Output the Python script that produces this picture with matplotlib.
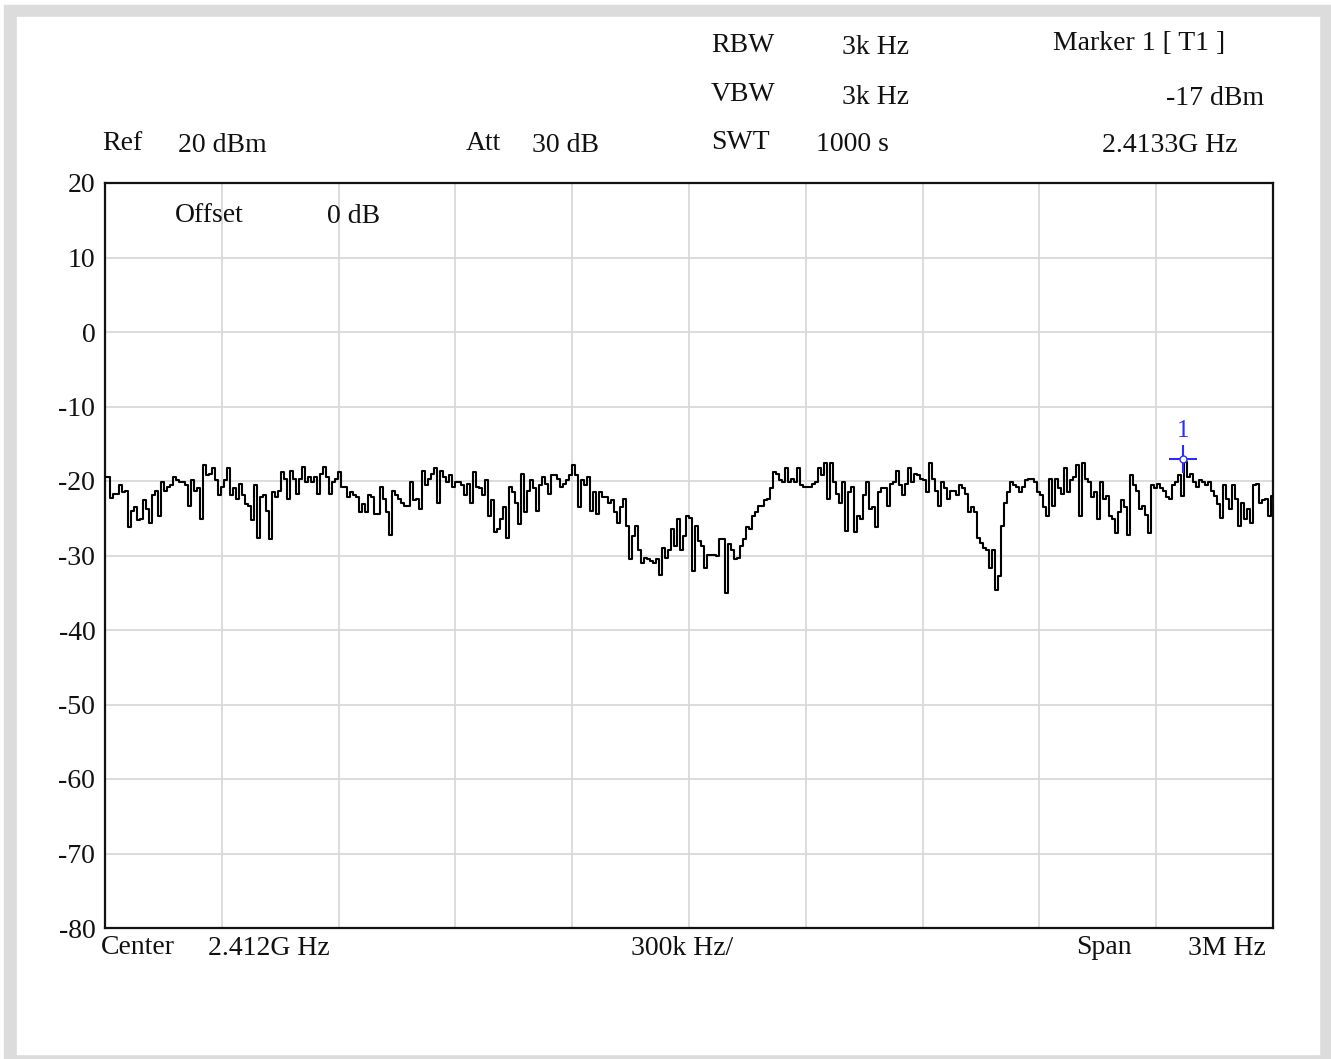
import numpy as np
import matplotlib
matplotlib.use("Agg")
import matplotlib.pyplot as plt
from matplotlib.patches import Rectangle

# ---------------- data ----------------
f_start = 2410.5   # MHz (center 2412 MHz, span 3 MHz)
f_stop = 2413.5
y_ticks = [20, 10, 0, -10, -20, -30, -40, -50, -60, -70, -80]

level_dbm = [
    # 2410.50 ... ~2411.00 MHz
    -19.5, -19.5, -22.3, -21.7, -21.8, -20.6, -21.5, -21.3, -26.2, -24.0,
    -23.5, -25.3, -25.1, -22.6, -23.8, -25.6, -21.9, -21.3, -24.7, -20.1,
    -21.3, -20.8, -20.6, -19.5, -19.9, -20.1, -20.1, -20.6, -23.3, -19.9,
    -21.3, -21.0, -25.1, -17.9, -19.2, -19.0, -18.3, -19.9, -21.9, -20.8,
    -19.9, -18.3, -21.9, -21.0, -22.4, -20.4, -21.9, -23.1, -23.3, -25.3,
    -20.6, -27.6, -22.2, -21.9, -24.0, -27.8, -21.5, -22.2, -21.3, -18.8,
    -19.7, -22.4, -18.6, -19.7, -21.7, -19.7,
    # ~2411.0 ... ~2411.5 MHz
    -18.1, -20.1, -19.5, -20.1, -19.5, -21.7, -19.0, -18.1, -19.5, -21.7,
    -20.1, -19.7, -18.8, -20.8, -20.8, -22.2, -21.5, -21.9, -22.2, -24.2,
    -23.1, -24.2, -21.9, -22.2, -24.4, -24.4, -20.8, -22.4, -24.2, -27.3,
    -21.3, -21.9, -22.4, -22.9, -23.3, -23.3, -20.1, -22.6, -22.4, -23.8,
    -18.6, -20.6, -19.7, -19.0, -18.3, -22.9, -18.6, -19.5, -20.1, -19.2,
    -20.8, -20.1, -20.1, -20.6, -21.9, -20.4, -22.9, -18.8, -20.8, -21.0,
    # ~2411.5 ... ~2412.0 MHz
    -21.9, -19.9, -24.7, -22.6, -26.9, -26.5, -25.1, -23.5, -27.6, -20.8,
    -21.5, -22.9, -25.8, -19.0, -24.2, -21.3, -19.9, -21.0, -24.0, -20.6,
    -19.5, -20.4, -21.7, -19.2, -19.2, -19.7, -20.8, -20.4, -19.9, -19.2,
    -17.9, -19.2, -23.5, -19.9, -20.6, -19.5, -24.0, -21.5, -24.4, -21.5,
    -22.2, -22.2, -22.9, -22.6, -24.2, -25.6, -23.5, -22.4, -26.0, -30.5,
    -27.4, -26.0, -29.2, -31.0, -30.3, -30.5, -30.8, -31.0, -30.5, -32.6,
    -29.0, -30.3, -29.2,
    # ~2412.0 ... ~2412.5 MHz
    -26.5, -28.7, -25.1, -29.2, -27.4, -24.7, -24.9, -32.1, -26.0, -28.1,
    -28.7, -31.7, -29.9, -29.9, -29.9, -30.1, -27.8, -27.8, -35.1, -28.5,
    -29.2, -30.5, -30.3, -28.7, -27.8, -26.2, -26.5, -24.7, -24.2, -23.3,
    -23.3, -22.6, -22.4, -21.0, -18.8, -19.0, -19.9, -20.1, -18.3, -20.1,
    -19.7, -20.1, -18.3, -20.6, -20.8, -20.8, -20.8, -20.4, -20.1, -18.3,
    -19.2, -17.6, -22.4, -17.6, -20.1, -21.7, -22.9, -20.1, -26.7, -21.5,
    -20.8, -26.9, -24.7,
    # ~2412.5 ... ~2413.0 MHz
    -25.1, -21.9, -20.1, -23.8, -23.5, -26.2, -21.5, -21.0, -21.0, -23.3,
    -20.4, -20.1, -18.6, -20.6, -21.9, -20.4, -18.3, -20.1, -19.0, -19.2,
    -19.7, -19.9, -21.5, -17.6, -19.7, -21.3, -23.3, -20.1, -21.0, -22.4,
    -21.3, -21.3, -21.9, -20.6, -21.0, -21.7, -24.2, -23.5, -24.2, -27.6,
    -28.3, -29.0, -29.2, -31.7, -29.2, -34.6, -32.8, -26.0, -22.9, -21.5,
    -20.1, -20.6, -20.8, -21.5, -20.8, -19.9, -19.7, -19.7, -20.1, -21.5,
    -21.9, -23.5, -24.7, -19.7,
    # ~2413.0 ... 2413.5 MHz
    -23.3, -19.7, -21.0, -21.7, -18.3, -21.5, -19.9, -19.5, -17.9, -24.7,
    -17.6, -19.7, -20.1, -22.2, -21.5, -25.1, -20.1, -22.4, -22.0, -24.7,
    -25.1, -27.0, -24.2, -22.6, -23.5, -27.2, -19.2, -20.6, -21.3, -23.8,
    -23.3, -24.5, -27.0, -20.6, -21.0, -20.4, -21.0, -21.3, -22.2, -22.4,
    -20.6, -20.1, -19.2, -22.0, -17.4, -19.5, -19.0, -20.1, -20.8, -19.9,
    -20.1, -20.6, -20.1, -21.3, -22.0, -23.1, -24.9, -20.6, -22.4, -23.8,
    -20.6, -22.4, -26.0, -22.9, -25.1, -23.8, -25.6, -20.6, -20.4, -22.9,
    -22.6, -22.4, -24.7, -22.0,
]

marker_freq = 2413.27
marker_level = -17
marker_label = "1"

header_left = [("Ref", "20 dBm"), ("Att", "30 dB")]
header_mid = [("RBW", "3k Hz"), ("VBW", "3k Hz"), ("SWT", "1000 s")]
marker_lines = ["Marker 1 [ T1 ]", "-17 dBm", "2.4133G Hz"]
offset_text = ("Offset", "0 dB")
footer = [("Center", "2.412G Hz"), ("300k Hz/",), ("Span", "3M Hz")]

# ---------------- figure ----------------
W, H = 1331, 1059
plt.rcParams["font.family"] = ["Liberation Serif", "DejaVu Serif"]
FS = 20

fig = plt.figure(figsize=(W / 100, H / 100), dpi=100)
fig.patch.set_facecolor("white")
fig.patches.append(Rectangle((4 / W, 0), (W - 4) / W, (H - 5) / H,
                             transform=fig.transFigure, color="#dcdcdc", zorder=-5))
fig.patches.append(Rectangle((17 / W, 5 / H), 1302 / W, 1037 / H,
                             transform=fig.transFigure, color="white", zorder=-4))


def px(x, y):
    return x / W, 1 - y / H


def ftext(x, y, s, ha="left"):
    fx, fy = px(x, y)
    fig.text(fx, fy, s, ha=ha, va="baseline", fontsize=FS, color="#111111", zorder=5)


ax = fig.add_axes([105 / W, 1 - 928 / H, 1168 / W, 745 / H], zorder=2)
ax.set_facecolor("white")
freq = np.linspace(f_start, f_stop, len(level_dbm))
ax.plot(freq, level_dbm, color="black", lw=1.5, drawstyle="steps-mid", zorder=3)

ax.set_xlim(f_start, f_stop)
ax.set_ylim(-80, 20)
ax.set_xticks(np.linspace(f_start, f_stop, 11))
ax.set_xticklabels([])
ax.set_yticks(y_ticks)
ax.set_yticklabels([str(v) for v in y_ticks])
ax.grid(True, color="#d6d6d6", lw=1.2)
ax.set_axisbelow(True)
ax.tick_params(length=0, labelsize=FS, pad=7, colors="#111111")
for sp in ax.spines.values():
    sp.set_color("#111111")
    sp.set_linewidth(1.6)

# marker
mcol = "#2b2bff"
ax.plot(marker_freq, marker_level, marker="+", ms=20, mew=1.5, color=mcol, zorder=5)
ax.plot(marker_freq, marker_level, marker="o", ms=5, mfc="white", mec=mcol, mew=1.0, zorder=6)
ax.annotate(marker_label, (marker_freq, marker_level), xytext=(0, 20),
            textcoords="offset points", ha="center", va="center",
            fontsize=18, color=mcol)

# header texts
ftext(102, 150, header_left[0][0]); ftext(178, 152, header_left[0][1])
ftext(466, 150, header_left[1][0]); ftext(532, 152, header_left[1][1])
ftext(711, 52, header_mid[0][0]); ftext(842, 54, header_mid[0][1])
ftext(711, 101, header_mid[1][0]); ftext(842, 104, header_mid[1][1])
ftext(711, 149, header_mid[2][0]); ftext(816, 151, header_mid[2][1])
ftext(1053, 50, marker_lines[0])
ftext(1264, 105, marker_lines[1], ha="right")
ftext(1102, 152, marker_lines[2])
ftext(175, 222, offset_text[0]); ftext(327, 223, offset_text[1])

# footer texts
ftext(101, 954, footer[0][0]); ftext(208, 955, footer[0][1])
ftext(631, 955, footer[1][0])
ftext(1076, 954, footer[2][0]); ftext(1188, 955, footer[2][1])

fig.savefig("out.png", dpi=100, facecolor="white")
